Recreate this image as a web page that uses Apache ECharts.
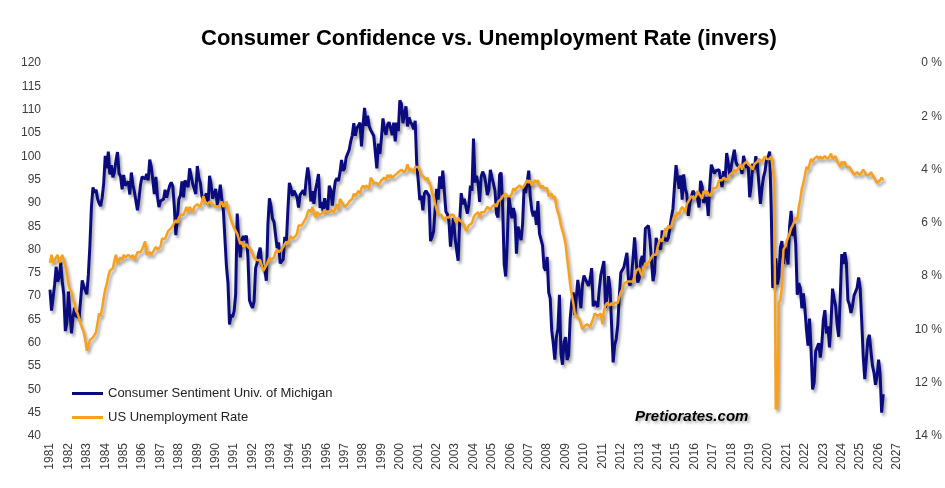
<!DOCTYPE html>
<html lang="en">
<head>
  <meta charset="UTF-8">
  <title>Consumer Confidence vs. Unemployment Rate</title>
  <script src="https://cdn.jsdelivr.net/npm/echarts/dist/echarts.min.js"></script>
  <style>
    html,body{padding:0;margin:0;background:#fff;}
    #chartBox{width:945px;height:488px;}
  </style>
</head>
<body>
  <div id="chartBox"></div>
  <script>
    // monthly, Jan 1981 .. Apr 2026
    const sentiment = [
      71.4,66.9,66.5,72.4,76.3,73.1,74.1,77.2,73.1,70.3,62.5,64.3, // 1981
      71.0,66.5,62.0,65.5,67.5,65.7,65.4,65.4,69.3,73.4,72.1,71.9, // 1982
      70.4,74.6,80.8,89.1,93.3,92.2,92.8,90.9,89.9,89.3,91.1,94.2, // 1983
      100.1,97.4,101.0,96.1,98.1,95.5,96.6,99.1,100.9,96.3,95.7,92.9,
      96.0,93.7,93.7,94.6,91.8,96.5,94.0,92.4,92.1,88.4,90.9,93.9, // 1985
      95.6,95.9,95.1,96.2,94.8,99.3,97.7,94.9,91.9,95.6,91.4,89.1,
      90.4,90.2,90.8,92.8,91.1,91.5,93.7,94.4,93.6,89.3,83.1,86.8,
      90.8,91.6,94.6,91.2,94.8,94.7,93.4,97.4,97.3,94.1,93.0,91.9,
      97.9,95.4,94.3,91.5,90.7,90.6,92.0,89.6,95.8,93.9,90.9,90.5,
      93.0,89.5,91.3,93.9,90.6,88.3,88.2,76.4,72.8,63.9,66.0,65.5, // 1990
      66.8,70.4,87.7,81.8,78.3,82.1,82.9,82.0,83.0,78.3,69.1,68.2,
      67.5,68.8,76.0,77.2,79.2,80.4,76.6,76.1,75.6,73.3,85.3,91.0,
      89.3,86.6,85.9,85.6,80.3,81.5,77.0,77.3,77.9,82.7,81.2,88.2,
      94.3,93.2,91.5,92.6,92.8,91.2,89.0,91.7,91.5,92.7,91.6,95.1,
      97.6,95.1,90.3,92.5,89.8,92.7,94.4,96.2,88.9,90.2,88.2,91.0, // 1995
      89.3,88.5,93.7,92.7,89.4,92.4,94.7,95.3,94.7,96.5,99.2,96.9,
      97.4,99.7,100.0,101.4,103.2,104.5,107.1,104.4,106.0,105.6,107.2,102.1,
      106.6,110.4,106.5,108.7,106.5,105.6,105.2,104.4,100.9,97.4,102.7,100.5,
      103.9,108.1,105.7,104.6,106.8,107.3,106.0,104.5,107.2,103.2,107.2,105.4,
      112.0,111.3,107.1,109.2,110.7,106.4,108.3,107.3,106.8,105.8,107.6,98.4, // 2000
      94.7,90.6,91.5,88.4,92.0,92.6,92.4,91.5,81.8,82.7,83.9,88.8,
      93.0,90.7,95.7,93.0,96.9,92.4,88.1,87.6,86.1,80.6,84.2,86.7,
      82.4,79.9,77.6,86.0,92.1,89.7,90.9,89.3,87.7,89.6,93.7,92.6,
      103.8,94.4,95.8,94.2,90.2,95.6,96.7,95.9,94.2,91.7,92.8,97.1,
      95.5,94.1,92.6,87.7,86.9,96.0,96.5,89.1,76.9,74.2,81.6,91.5, // 2005
      91.2,86.7,88.9,87.4,79.1,84.9,84.7,82.0,85.4,93.6,92.1,91.7,
      96.9,91.3,88.4,87.1,88.3,85.3,90.4,83.4,83.4,80.9,76.1,75.5,
      78.4,70.8,69.5,62.6,59.8,56.4,61.2,63.0,70.3,57.6,55.3,60.1,
      61.2,56.3,57.3,65.1,68.7,70.8,66.0,65.7,73.5,70.6,67.4,72.5,
      74.4,73.6,73.6,72.2,73.6,76.0,67.8,68.9,68.2,67.7,71.6,74.5, // 2010
      74.2,77.5,67.5,69.8,74.3,71.5,63.7,55.8,59.5,60.8,63.7,69.9,
      75.0,75.3,76.2,76.4,79.3,73.2,72.3,74.3,78.3,82.6,82.7,72.9,
      73.8,77.6,78.6,76.4,84.5,84.1,85.1,82.1,77.5,73.2,75.1,82.5,
      81.2,81.6,80.0,84.1,81.9,82.5,81.8,82.5,84.6,86.9,88.8,93.6,
      98.1,95.4,93.0,95.9,90.7,96.1,93.1,91.9,87.2,90.0,91.3,92.6, // 2015
      92.0,91.7,91.0,89.0,94.7,93.5,90.0,89.8,91.2,87.2,93.8,98.2,
      98.5,96.3,96.9,97.0,97.1,95.0,93.4,96.8,95.1,100.7,98.5,95.9,
      95.7,99.7,101.4,98.8,98.0,98.2,97.9,96.2,100.1,98.6,97.5,98.3,
      91.2,93.8,98.4,97.2,100.0,98.2,98.4,89.8,93.2,95.5,96.8,99.3,
      99.8,101.0,89.1,71.8,72.3,78.1,72.5,74.1,80.4,81.8,76.9,80.7, // 2020
      79.0,76.8,84.9,88.3,82.9,85.5,81.2,70.3,72.8,71.7,67.4,70.6,
      67.2,62.8,59.4,65.2,58.4,50.0,51.5,58.2,58.6,59.9,56.8,59.7,
      64.9,67.0,62.0,63.5,59.0,64.2,71.6,69.5,67.9,63.8,61.3,69.7,
      79.0,76.9,79.4,77.2,69.1,68.2,66.4,67.9,70.1,70.5,71.8,74.0,
      71.7,64.7,57.0,52.2,52.2,60.7,61.7,58.2,55.1,53.6,51.0,52.9, // 2025
      56.4,53.3,45.0,49.0
    ];

    // unemployment rate in %, as drawn: it trails the sentiment line by two months,
    // so the first value (Jan 1981 slot) is the Nov 1980 reading
    const unemployment = [
      7.5,7.2,
      7.5,7.4,7.4,7.2,7.5,7.5,7.2,7.4,7.6,7.9,8.3,8.5, // 1981
      8.6,8.9,9.0,9.3,9.4,9.6,9.8,9.8,10.1,10.4,10.8,10.8,
      10.4,10.4,10.3,10.2,10.1,10.1,9.4,9.5,9.2,8.8,8.5,8.3,
      8.0,7.8,7.8,7.7,7.4,7.2,7.5,7.5,7.3,7.4,7.2,7.3,
      7.3,7.2,7.2,7.3,7.2,7.4,7.4,7.1,7.1,7.1,7.0,7.0, // 1985
      6.7,7.2,7.2,7.1,7.2,7.2,7.0,6.9,7.0,7.0,6.9,6.6,
      6.6,6.6,6.6,6.3,6.3,6.2,6.1,6.0,5.9,6.0,5.8,5.7,
      5.7,5.7,5.7,5.4,5.6,5.4,5.4,5.6,5.4,5.4,5.3,5.3,
      5.4,5.2,5.0,5.2,5.2,5.3,5.2,5.2,5.3,5.3,5.4,5.4,
      5.4,5.3,5.2,5.4,5.4,5.2,5.5,5.7,5.9,5.9,6.2,6.3, // 1990
      6.4,6.6,6.8,6.7,6.9,6.9,6.8,6.9,6.9,7.0,7.0,7.3,
      7.3,7.4,7.4,7.4,7.6,7.8,7.7,7.6,7.6,7.3,7.4,7.4,
      7.3,7.1,7.0,7.1,7.1,7.0,6.9,6.8,6.7,6.8,6.6,6.5,
      6.6,6.6,6.5,6.4,6.1,6.1,6.1,6.0,5.9,5.8,5.6,5.5,
      5.6,5.4,5.4,5.8,5.6,5.6,5.7,5.7,5.6,5.5,5.6,5.6, // 1995
      5.6,5.5,5.5,5.6,5.6,5.3,5.5,5.1,5.2,5.2,5.4,5.4,
      5.3,5.2,5.2,5.1,4.9,5.0,4.9,4.8,4.9,4.7,4.6,4.7,
      4.6,4.6,4.7,4.3,4.4,4.5,4.5,4.5,4.6,4.5,4.4,4.4,
      4.3,4.4,4.2,4.3,4.2,4.3,4.3,4.2,4.2,4.1,4.1,4.0,
      4.0,4.1,4.0,3.8,4.0,4.0,4.0,4.1,3.9,3.9,3.9,3.9, // 2000
      4.2,4.2,4.3,4.4,4.3,4.5,4.6,4.9,5.0,5.3,5.5,5.7,
      5.7,5.7,5.7,5.9,5.8,5.8,5.8,5.7,5.7,5.7,5.9,6.0,
      5.8,5.9,5.9,6.0,6.1,6.3,6.2,6.1,6.1,6.0,5.8,5.7,
      5.7,5.6,5.8,5.6,5.6,5.6,5.5,5.4,5.4,5.5,5.4,5.4,
      5.3,5.4,5.2,5.2,5.1,5.0,5.0,4.9,5.0,5.0,5.0,4.9, // 2005
      4.7,4.8,4.7,4.7,4.6,4.6,4.7,4.7,4.5,4.4,4.5,4.4,
      4.6,4.5,4.4,4.5,4.4,4.6,4.7,4.6,4.7,4.7,4.7,5.0,
      5.0,4.9,5.1,5.0,5.4,5.6,5.8,6.1,6.1,6.5,6.8,7.3,
      7.8,8.3,8.7,9.0,9.4,9.5,9.5,9.6,9.8,10.0,9.9,9.9,
      9.8,9.8,9.9,9.9,9.6,9.4,9.4,9.5,9.5,9.4,9.8,9.3, // 2010
      9.1,9.0,9.0,9.1,9.0,9.1,9.0,9.0,9.0,8.8,8.6,8.5,
      8.3,8.3,8.2,8.2,8.2,8.2,8.2,8.0,7.8,7.8,7.7,7.9,
      8.0,7.7,7.5,7.6,7.5,7.5,7.3,7.2,7.2,7.2,6.9,6.7,
      6.6,6.7,6.7,6.2,6.3,6.1,6.2,6.1,5.9,5.7,5.8,5.6,
      5.7,5.5,5.4,5.4,5.6,5.3,5.2,5.1,5.0,5.0,5.1,5.0, // 2015
      4.8,4.9,5.0,5.1,4.8,4.9,4.8,4.9,5.0,4.9,4.7,4.7,
      4.7,4.6,4.4,4.4,4.4,4.3,4.3,4.4,4.3,4.2,4.2,4.1,
      4.0,4.1,4.0,4.0,3.8,4.0,3.8,3.8,3.7,3.8,3.8,3.9,
      4.0,3.8,3.8,3.7,3.6,3.6,3.7,3.6,3.5,3.6,3.6,3.6,
      3.5,3.5,4.4,13.0,12.9,9.0,8.9,8.4,7.0,6.9,6.7,6.7, // 2020
      6.4,6.2,6.1,6.1,5.8,5.9,5.4,5.1,4.7,4.5,4.2,3.9,
      4.0,3.8,3.6,3.7,3.6,3.6,3.5,3.6,3.5,3.6,3.6,3.5,
      3.5,3.6,3.5,3.4,3.6,3.6,3.5,3.7,3.8,3.9,3.7,3.8,
      3.7,3.9,3.9,3.9,4.0,4.1,4.2,4.2,4.1,4.1,4.2,4.1,
      4.0,4.1,4.2,4.2,4.2,4.1,4.2,4.3,4.4,4.5,4.5,4.4, // 2025
      4.3,4.4
    ];

    const firstYear = 1981, lastYear = 2027;
    const months = [];
    for (let y = firstYear; y < lastYear; y++) {
      for (let m = 1; m <= 12; m++) months.push(y + '-' + (m < 10 ? '0' + m : m));
    }
    months.push(lastYear + '-01');

    const labelColor = '#3c3c3c';
    const lineShadow = {shadowColor:'rgba(0,0,0,0.35)', shadowBlur:3, shadowOffsetX:2, shadowOffsetY:3};

    let option = {
      animation: false,
      backgroundColor: '#fff',
      textStyle: {fontFamily:'Liberation Sans, Arial, sans-serif'},
      title: [
        {
          text: 'Consumer Confidence vs. Unemployment Rate (invers)',
          left: 201, top: 28, padding: 0,
          textStyle: {fontSize:22, fontWeight:'bold', color:'#000'}
        },
        {
          text: 'Pretiorates.com',
          left: 635, top: 409, padding: 0,
          textStyle: {
            fontSize:15, fontWeight:'bold', fontStyle:'italic', color:'#000',
            textShadowColor:'rgba(0,0,0,0.35)', textShadowBlur:3, textShadowOffsetX:2, textShadowOffsetY:2
          }
        }
      ],
      legend: {
        orient: 'vertical',
        left: 72, top: 387, padding: 0,
        itemGap: 11, itemWidth: 31, itemHeight: 3,
        icon: 'rect',
        textStyle: {fontSize:13, color:'#222'},
        data: ['Consumer Sentiment Univ. of Michigan', 'US Unemployment Rate']
      },
      grid: {left:50, right:48, top:63, bottom:52},
      xAxis: {
        type: 'category',
        data: months,
        boundaryGap: false,
        axisLine: {show:false},
        axisTick: {show:false},
        splitLine: {show:false},
        axisLabel: {
          rotate: 90,
          margin: 7,
          fontSize: 12,
          color: labelColor,
          interval: (i) => i % 12 === 0,
          formatter: (v) => v.slice(0, 4)
        }
      },
      yAxis: [
        {
          type: 'value', min: 40, max: 120, interval: 5,
          axisLine: {show:false}, axisTick: {show:false}, splitLine: {show:false},
          axisLabel: {fontSize:12, color:labelColor, margin:9}
        },
        {
          type: 'value', min: 0, max: 14, interval: 2, inverse: true, position: 'right',
          axisLine: {show:false}, axisTick: {show:false}, splitLine: {show:false},
          axisLabel: {fontSize:12, color:labelColor, margin:45, align:'right', formatter:'{value} %'}
        }
      ],
      series: [
        {
          name: 'Consumer Sentiment Univ. of Michigan',
          type: 'line',
          yAxisIndex: 0,
          symbol: 'none',
          color: '#0b0b80',
          lineStyle: Object.assign({width:3, color:'#0b0b80'}, lineShadow),
          data: sentiment
        },
        {
          name: 'US Unemployment Rate',
          type: 'line',
          yAxisIndex: 1,
          symbol: 'none',
          color: '#f7a11e',
          lineStyle: Object.assign({width:2.5, color:'#f7a11e'}, lineShadow),
          data: unemployment
        }
      ]
    };
    let myChart = echarts.init(document.getElementById('chartBox'));
    if (myChart) { myChart.setOption(option); }
  </script>
</body>
</html>
